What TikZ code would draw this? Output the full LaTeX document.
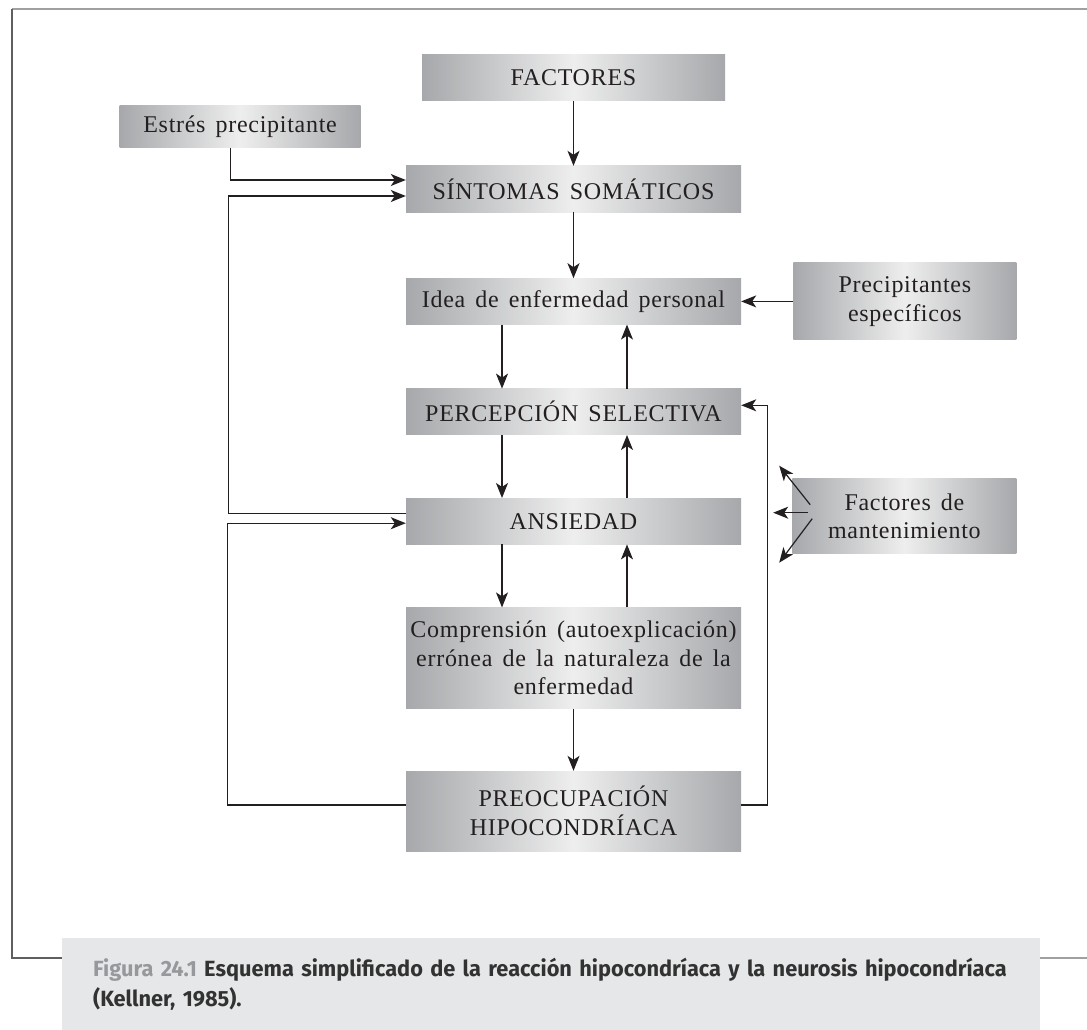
\documentclass[tikz,border=0pt]{standalone}
\usepackage{fontspec}
\setmainfont[LetterSpace=3,WordSpace=1.5]{Liberation Serif}
\newfontfamily\capfont[FakeStretch=0.99]{Fira Sans}
\usetikzlibrary{arrows.meta,positioning,calc}
\definecolor{ink}{RGB}{35,31,32}
\definecolor{boxedge}{RGB}{166,168,171}
\definecolor{boxmid}{RGB}{238,238,238}
\definecolor{capfill}{RGB}{230,231,232}
\definecolor{capgray}{RGB}{150,152,155}
\definecolor{captext}{RGB}{50,50,50}
\definecolor{framegray}{RGB}{160,160,160}
\definecolor{framedark}{RGB}{95,95,95}
\tikzset{
  box/.style={left color=boxedge,right color=boxedge,middle color=boxmid,
    inner sep=0pt,align=center,text=ink,minimum width=335pt,minimum height=46pt,
    font=\fontsize{24}{28.5}\selectfont},
  side/.style={box,minimum width=223pt},
  arr/.style={-{Stealth[length=15pt,width=12pt,inset=4pt]},line width=1.2pt,ink},
  caption/.style={fill=capfill,inner xsep=31pt,inner ysep=0pt,minimum height=92pt,
    text width=916pt,align=left,text=captext,
    font=\capfont\bfseries\fontsize{22}{30}\selectfont},
}

\begin{document}
\begin{tikzpicture}[x=1pt,y=-1pt]
\useasboundingbox (0,0) rectangle (1087,1030);

% main chain
\node[box] (S) at (573.5,189) {SÍNTOMAS SOMÁTICOS};
\node[box,minimum width=303pt,above=65pt of S] (F) {FACTORES};
\node[box,minimum width=241pt,minimum height=42pt,above left=18pt and 45pt of S] (E)
  {Estrés precipitante};
\node[box,below=66pt of S] (I) {Idea de enfermedad personal};
\node[box,below=64pt of I] (P) {PERCEPCIÓN SELECTIVA};
\node[box,below=63pt of P] (A) {ANSIEDAD};
\node[box,minimum height=101pt,below=63pt of A] (C)
  {Comprensión (autoexplicación)\\errónea de la naturaleza de la\\enfermedad};
\node[box,minimum height=80pt,below=62pt of C] (H) {PREOCUPACIÓN\\HIPOCONDRÍACA};

% side boxes
\node[side,minimum height=77pt,right=52pt of I] (Q) {Precipitantes\\específicos};
\node[side,minimum width=224pt,minimum height=75pt,right=51pt of A,yshift=5pt] (M)
  {Factores de\\mantenimiento};

% caption and frame
\node[caption,anchor=north west] (cap) at (62,938)
  {{\color{capgray}Figura 24.1} Esquema simplificado de la reacción hipocondríaca y la neurosis hipocondríaca\\(Kellner, 1985).};
\draw[framegray,line width=2pt] (12,9) -- (1087,9);
\draw[framedark,line width=1.6pt] (12,9) -- (12,958) -- ([yshift=-20pt]cap.north west);
\draw[framegray,line width=2pt] ([yshift=-20pt]cap.north east) -- (1087,958);

% edges
\draw[arr] (F) -- (S);
\draw[arr] (S) -- (I);
\draw[arr] ([xshift=-71.5pt]I.south) -- ([xshift=-71.5pt]P.north);
\draw[arr] ([xshift=53.5pt]P.north) -- ([xshift=53.5pt]I.south);
\draw[arr] ([xshift=-71.5pt]P.south) -- ([xshift=-71.5pt]A.north);
\draw[arr] ([xshift=53.5pt]A.north) -- ([xshift=53.5pt]P.south);
\draw[arr] ([xshift=-71.5pt]A.south) -- ([xshift=-71.5pt]C.north);
\draw[arr] ([xshift=53.5pt]C.north) -- ([xshift=53.5pt]A.south);
\draw[arr] (C) -- (H);
\draw[arr] (Q) -- (I);
\draw[arr] ([xshift=-9.5pt]E.south) |- ([yshift=9pt]S.west);
\draw[arr] ([yshift=8pt]A.west) -- ++(-177pt,0pt) |- ([yshift=-7pt]S.west);
\draw[arr] ([yshift=6pt]H.west) -- ++(-178pt,0pt) |- ([yshift=-2pt]A.west);
\draw[arr] ([yshift=6pt]H.east) -- ++(26pt,0pt) |- ([yshift=6.5pt]P.east);

% maintenance arrows
\coordinate (mu) at ($(M.west)+(-13pt,50.5pt)$);
\coordinate (mm) at ($(M.west)+(-19pt,3.5pt)$);
\coordinate (md) at ($(M.west)+(-13pt,-46.5pt)$);
\draw[arr] ($(M.west)+(18pt,11.5pt)$) -- (mu);
\draw[arr] ($(M.west)+(16pt,3.5pt)$) -- (mm);
\draw[arr] ($(M.west)+(20pt,-2.5pt)$) -- (md);
\end{tikzpicture}
\end{document}
